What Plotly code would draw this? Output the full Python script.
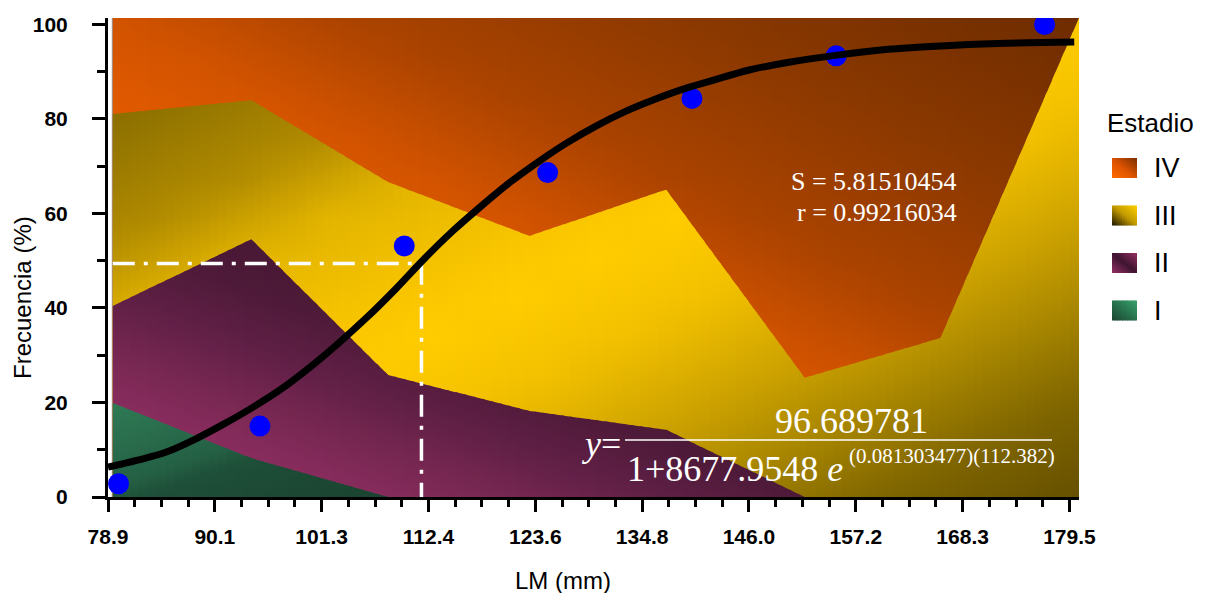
import numpy as np
import plotly.graph_objects as go

# ------------------------------------------------------------------ data
STAGE_NAMES = ["IV", "III", "II", "I"]
LM_EDGES = [79.4, 93.9, 108.2, 123.0, 137.3, 151.8, 166.0, 180.5]   # LM (mm)
STAGE_I = [19.9, 8.2, 0, 0, 0, 0, 0, 0]                             # %
STAGE_II = [20.5, 46.3, 25.8, 18.2, 14.2, 0, 0, 0]
STAGE_III = [40.6, 29.4, 40.8, 37.0, 50.8, 25.2, 33.6, 101.3]
FRAME_TOP = 101.3                                                    # stage IV = remainder

OBS_LM = [80.0, 94.8, 109.9, 124.9, 140.0, 155.1, 176.9]
OBS_FREQ = [2.8, 15.0, 53.1, 68.6, 84.3, 93.3, 99.9]

CURVE_LM = [78.9, 82, 85, 88, 91, 94, 97, 100, 103, 106, 109, 112, 115, 118, 121,
            124, 127, 130, 133, 136, 139, 142, 146, 150, 155, 160, 166, 172, 180]
CURVE_FREQ = [6.3, 7.8, 9.5, 12.2, 15.4, 18.9, 22.8, 27.4, 32.5, 38.0, 44.0, 50.4, 56.3,
              61.6, 66.6, 71.0, 75.0, 78.5, 81.5, 84.0, 86.2, 88.0, 90.3, 91.9, 93.4,
              94.6, 95.4, 95.9, 96.2]

L50_LM = 111.7
L50_FREQ = 49.4

X_TICK_LABELS = ["78.9", "90.1", "101.3", "112.4", "123.6", "134.8", "146.0",
                 "157.2", "168.3", "179.5"]
Y_TICKS = [0, 20, 40, 60, 80, 100]
Y_MINOR = [10, 30, 50, 70, 90]

# ------------------------------------------------------------------ styles
GRAD = {
    "IV": ("bltr", [(0, "#f26400"), (0.4, "#e25a00"), (0.5, "#d25300"), (0.62, "#ab4300"),
                    (0.8, "#8a3800"), (1, "#6e2c00")]),
    "III": ("tlbr", [(0, "#7a6000"), (0.1, "#8a6e00"), (0.23, "#b08a00"), (0.32, "#e2b400"),
                     (0.45, "#fac600"), (0.5, "#ffcc00"), (0.6, "#f2c000"), (0.72, "#caa000"),
                     (0.82, "#a08000"), (0.9, "#7e6400"), (1, "#665000")]),
    "II": ("bltr", [(0, "#902f62"), (0.19, "#872c5d"), (0.3, "#73264f"), (0.38, "#622047"),
                    (0.5, "#4e1a39"), (0.6, "#481834"), (1, "#481834")]),
    "I": ("tlbr", [(0, "#2f7a55"), (0.45, "#246044"), (0.55, "#1e4f38"), (0.86, "#1b4632"),
                   (1, "#1a4430")]),
}
LEGEND_GRAD = {
    "IV": ("bltr", [(0, "#ff6a00"), (0.45, "#e05400"), (1, "#7a3000")]),
    "III": ("bltr", [(0, "#1a1400"), (0.5, "#c09800"), (1, "#ffd000")]),
    "II": ("bltr", [(0, "#952f65"), (0.5, "#3e1430"), (1, "#952f65")]),
    "I": ("bltr", [(0, "#1a4430"), (1, "#36a26c")]),
}


def hex2rgb(h):
    return np.array([int(h[i:i + 2], 16) for i in (1, 3, 5)], float)


def color_at(stops, t):
    t = min(max(t, 0.0), 1.0)
    for k in range(len(stops) - 1):
        p0, c0 = stops[k]
        p1, c1 = stops[k + 1]
        if p0 <= t <= p1:
            f = 0 if p1 == p0 else (t - p0) / (p1 - p0)
            c = hex2rgb(c0) * (1 - f) + hex2rgb(c1) * f
            return "rgb(%d,%d,%d)" % tuple(np.round(c).astype(int))
    return stops[-1][1]


def gradient_region(fig, edges, top, box, grad, n, xaxis="x", yaxis="y"):
    """Fill the region between the box bottom and `top` (given at `edges`)
    with a diagonal gradient, built from thin vertical strips."""
    bx0, bx1, by0, by1 = box
    mode, stops = grad
    cuts = np.linspace(edges[0], edges[-1], n + 1)
    eps = (edges[-1] - edges[0]) / n * 0.35
    for a, b in zip(cuts[:-1], cuts[1:]):
        b2 = min(b + eps, edges[-1])
        xs = [a] + [e for e in edges if a < e < b2] + [b2]
        ys = list(np.interp(xs, edges, top))
        if max(ys) <= by0:
            continue
        uc = ((a + b) / 2 - bx0) / (bx1 - bx0)
        cs = []
        for p in np.linspace(0, 1, 13):
            t = (uc + p) / 2 if mode == "bltr" else (uc + 1 - p) / 2
            cs.append([float(p), color_at(stops, t)])
        fig.add_trace(go.Scatter(
            x=xs + [b2, a], y=ys + [by0, by0], mode="lines", fill="toself",
            xaxis=xaxis, yaxis=yaxis, line=dict(width=0), fillcolor=cs[6][1],
            fillgradient=dict(type="vertical", colorscale=cs, start=by0, stop=by1),
            hoverinfo="skip", showlegend=False))


cum1 = np.array(STAGE_I, float)
cum2 = cum1 + np.array(STAGE_II, float)
cum3 = cum2 + np.array(STAGE_III, float)
tops = {"IV": np.full(len(LM_EDGES), FRAME_TOP), "III": cum3, "II": cum2, "I": cum1}


def bbox(top):
    pos = np.where(top > 0)[0]
    last = min(pos[-1] + 1, len(LM_EDGES) - 1)
    return LM_EDGES[0], LM_EDGES[last], 0.0, float(top.max())


fig = go.Figure()

for name in STAGE_NAMES:
    gradient_region(fig, LM_EDGES, tops[name], bbox(tops[name]), GRAD[name], 110)

# L50 guide lines
fig.add_trace(go.Scatter(x=[LM_EDGES[0], L50_LM, L50_LM], y=[L50_FREQ, L50_FREQ, 0],
                         mode="lines", line=dict(color="white", width=3.5, dash="22px,9px,4px,9px"),
                         hoverinfo="skip", showlegend=False))
# observed points
fig.add_trace(go.Scatter(x=OBS_LM, y=OBS_FREQ, mode="markers",
                         marker=dict(color="#0000ff", size=21, line=dict(width=0)),
                         showlegend=False))
# fitted curve
fig.add_trace(go.Scatter(x=CURVE_LM, y=CURVE_FREQ, mode="lines",
                         line=dict(color="black", width=7, shape="spline", smoothing=1),
                         showlegend=False))
# invisible trace carrying the y tick-label axis
fig.add_trace(go.Scatter(x=[None], y=[None], yaxis="y3", showlegend=False, hoverinfo="skip"))

# ------------------------------------------------------------------ layout
W, H = 1213, 593
ML, MR, MT, MB = 108, 0, 18, 96
PLOT_RIGHT = 1079                     # right edge of the data frame (px)
PW, PH = W - ML - MR, H - MT - MB
MAIN_DOMAIN = (PLOT_RIGHT - ML) / PW
LEG_LEFT = 1085                       # left edge of the legend panel (px)


def px(x):
    return (x - ML) / PW


def py(y):
    return (H - MB - y) / PH


# legend panel (own axes in pixel units: x = px, y = px from frame bottom)
LEG_SW_X, LEG_SW_W, LEG_SW_H = 1112, 25, 20
LEG_ROW0, LEG_DY = 168, 47.5
LEG_TEXT_X, LEG_TITLE_Y = 1152, 123
for i, name in enumerate(STAGE_NAMES):
    cy = (H - MB) - (LEG_ROW0 + i * LEG_DY)
    edges = [LEG_SW_X, LEG_SW_X + LEG_SW_W]
    top = [cy + LEG_SW_H / 2] * 2
    box = (edges[0], edges[1], cy - LEG_SW_H / 2, cy + LEG_SW_H / 2)
    gradient_region(fig, edges, top, box, LEGEND_GRAD[name], 10, xaxis="x2", yaxis="y2")

serif = "Liberation Serif"
notes = [
    dict(text="S = 5.81510454", x=959, y=181, xanchor="right", size=26),
    dict(text="r = 0.99216034", x=959, y=213, xanchor="right", size=26),
    dict(text="<i>y</i>=", x=623, y=444, xanchor="right", size=36),
    dict(text="96.689781", x=851, y=421, xanchor="center", size=36),
    dict(text="1+8677.9548 <i>e</i>", x=625, y=469, xanchor="left", size=36),
    dict(text="(0.081303477)(112.382)", x=847, y=456, xanchor="left", size=21),
]
annotations = [dict(text=n["text"], x=px(n["x"]), y=py(n["y"]), xref="paper", yref="paper",
                    xanchor=n["xanchor"], yanchor="middle", showarrow=False,
                    font=dict(family=serif, size=n["size"], color="white"))
               for n in notes]
# axis titles
annotations.append(dict(text="LM (mm)", x=px(563), y=py(580), xref="paper", yref="paper",
                        xanchor="center", yanchor="middle", showarrow=False,
                        font=dict(size=24, color="black")))
annotations.append(dict(text="Frecuencia (%)", x=px(22), y=py(298), xref="paper", yref="paper",
                        xanchor="center", yanchor="middle", showarrow=False, textangle=-90,
                        font=dict(size=24, color="black")))
# legend texts
annotations.append(dict(text="Estadio", x=px(1105), y=py(LEG_TITLE_Y), xref="paper", yref="paper",
                        xanchor="left", yanchor="middle", showarrow=False,
                        font=dict(size=26, color="black")))
for i, name in enumerate(STAGE_NAMES):
    annotations.append(dict(text=name, x=px(LEG_TEXT_X), y=py(LEG_ROW0 + i * LEG_DY),
                            xref="paper", yref="paper", xanchor="left", yanchor="middle",
                            showarrow=False, font=dict(size=27, color="black")))

x_step = (float(X_TICK_LABELS[-1]) - float(X_TICK_LABELS[0])) / (len(X_TICK_LABELS) - 1)
x_ticks = [float(X_TICK_LABELS[0]) + k * x_step for k in range(len(X_TICK_LABELS))]
x_minor = [x_ticks[k] + j * x_step / 4 for k in range(len(x_ticks) - 1) for j in (1, 2, 3)]

fig.update_layout(
    width=W, height=H, autosize=False,
    margin=dict(l=ML, r=MR, t=MT, b=MB, pad=0, autoexpand=False),
    paper_bgcolor="white", plot_bgcolor="white",
    font=dict(family="Liberation Sans", color="black"),
    showlegend=False,
    annotations=annotations,
    shapes=[
        dict(type="line", xref="paper", yref="paper", x0=px(625), x1=px(1052), y0=py(440), y1=py(440),
             line=dict(color="white", width=1.5)),
        dict(type="rect", xref="x", yref="y", x0=LM_EDGES[0], x1=LM_EDGES[-1], y0=0, y1=FRAME_TOP,
             line=dict(color="#9a9a9a", width=2), layer="below"),
    ],
    xaxis=dict(domain=[0, MAIN_DOMAIN], range=[float(X_TICK_LABELS[0]), LM_EDGES[-1]],
               tickvals=x_ticks, ticktext=X_TICK_LABELS, automargin=False,
               ticks="outside", ticklen=12, tickwidth=3, tickcolor="black",
               showline=True, linewidth=3, linecolor="black", showgrid=False, zeroline=False,
               tickfont=dict(size=21, weight="bold"), ticklabelstandoff=7,
               minor=dict(tickvals=x_minor, ticks="outside", ticklen=7, tickwidth=3, tickcolor="black")),
    yaxis=dict(range=[0, FRAME_TOP], tickvals=Y_TICKS, automargin=False, showticklabels=False,
               ticks="outside", ticklen=13, tickwidth=3, tickcolor="black",
               showline=True, linewidth=3, linecolor="black", showgrid=False, zeroline=False,
               minor=dict(tickvals=Y_MINOR, ticks="outside", ticklen=8, tickwidth=3, tickcolor="black")),
    # tick-label axis: same scale, transparent long ticks push the labels outward
    yaxis3=dict(overlaying="y", anchor="x", side="left", range=[0, FRAME_TOP], tickvals=Y_TICKS,
                automargin=False, ticks="outside", ticklen=35, tickwidth=1,
                tickcolor="rgba(0,0,0,0)", showline=False, showgrid=False, zeroline=False,
                tickfont=dict(size=21, weight="bold")),
    xaxis2=dict(domain=[px(LEG_LEFT), 1], range=[LEG_LEFT, W], visible=False,
                fixedrange=True, anchor="y2", automargin=False),
    yaxis2=dict(domain=[0, 1], range=[0, PH], visible=False, fixedrange=True,
                anchor="x2", automargin=False),
)

fig.write_html("out.html")
